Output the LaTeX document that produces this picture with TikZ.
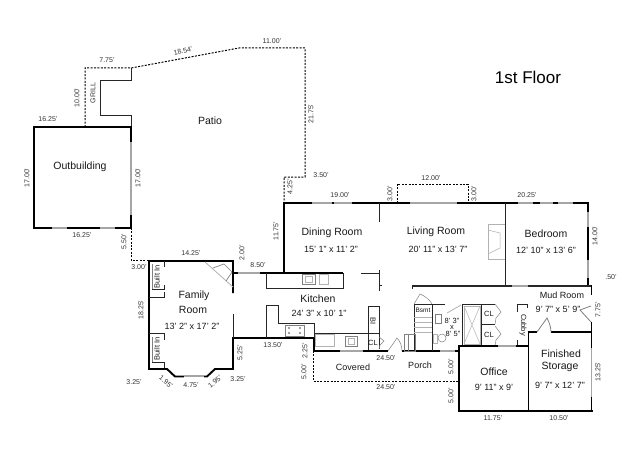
\documentclass[tikz,border=0pt]{standalone}
\usepackage{fontspec}
\setmainfont{Liberation Sans}
\tikzset{
  wall/.style={line width=1.9pt,black,line cap=butt},
  win/.style={line width=1.3pt,black!35},
  thin/.style={line width=0.9pt,black!85},
  fix/.style={line width=0.5pt,black!50},
  pale/.style={line width=0.5pt,black!30},
  dsh/.style={line width=1pt,black,dash pattern=on 2pt off 1.4pt},
  dim/.style={font=\fontsize{7}{8}\selectfont,text=black!80,inner sep=0pt},
  room/.style={font=\fontsize{10.5}{12}\selectfont,text=black!90,inner sep=0pt},
  size/.style={font=\fontsize{9}{10}\selectfont,text=black!90,inner sep=0pt},
  sm/.style={font=\fontsize{7.5}{8}\selectfont,text=black!90,inner sep=0pt},
}
\begin{document}
\begin{tikzpicture}[x=1pt,y=-1pt]
\useasboundingbox (0,0) rectangle (640,460);
\fill[white] (0,0) rectangle (640,460);
% patio dashed outline
\draw[dsh] (85,127) -- (85,68) -- (131,68) -- (239,48) -- (305,48) -- (305,177) -- (284,177) -- (284,202);
\draw[dsh] (131,228) -- (131,260) -- (149,260);
\draw[dsh] (397,203) -- (397,184) -- (468,184) -- (468,203);
\draw[dsh] (313,351) -- (313,381) -- (459,381);
% grill
\draw[thin] (131,68) -- (131,80) -- (100,80) -- (100,115) -- (131,115) -- (131,127);
% outbuilding
\draw[wall] (34,228) -- (34,127) -- (131,127) -- (131,228) -- cycle;
\draw[white,line width=2pt] (131,142) -- (131,215);
\draw[win] (131,142) -- (131,215);
\draw[white,line width=2pt] (52,228) -- (67,228) (100,228) -- (115,228);
\draw[win] (52,228) -- (67,228) (100,228) -- (115,228);
% family room
\draw[wall] (233,293) -- (233,261) -- (149,261) -- (149,369) -- (167,369) -- (175,376.5) -- (207,376.5) -- (215,369) -- (233,369) -- (233,338) -- (314,338) -- (314,351);
\draw[thin] (233,314) -- (233,338);
\draw[white,line width=2pt] (184,376.5) -- (204,376.5);
\draw[win] (184,376.5) -- (204,376.5);
\draw[thin] (164,261) -- (164,267);
\draw[fix] (152,264) -- (152,289);
\draw[thin] (152,289) -- (164,289) -- (164,285);
\draw[thin] (149,297) -- (164,297) -- (164,292);
\draw[thin] (149,333) -- (164,333) -- (164,340);
\draw[fix] (152,337) -- (152,362);
\draw[thin] (152,362) -- (164,362) -- (164,368);
\draw[pale,line width=0.8pt] (205,262) -- (233,287);
\draw[fix,line width=0.7pt] (213,268) -- (224,264) -- (232,272) -- (226,281);
% connection family-kitchen
\draw[white,line width=2pt] (233,273) -- (265,273);
\draw[win] (233,273) -- (265,273);
\draw[wall] (233,273) -- (238,273) (260,273) -- (343,273);
\draw[wall] (284,273) -- (284,202.05);
% top wall
\draw[wall] (283.1,203) -- (589,203);
\draw[white,line width=2pt] (312,203) -- (332,203) (334,203) -- (352,203) (410,203) -- (457,203) (518,203) -- (533,203) (540,203) -- (553,203) (558,203) -- (573,203);
\draw[win] (312,203) -- (332,203) (334,203) -- (352,203);
\draw[win] (410,203) -- (457,203);
\draw[win] (518,203) -- (533,203) (540,203) -- (553,203) (558,203) -- (573,203);
% right of bedroom
\draw[wall] (588,203) -- (588,286);
\draw[white,line width=2pt] (588,212) -- (588,227) (588,260) -- (588,278);
\draw[win] (588,212) -- (588,227) (588,260) -- (588,278);
\draw[thin] (505,203) -- (505,286);
\draw[thin,line width=1.1pt] (412,286) -- (591,286);
\draw[thin] (412,286) -- (412,289);
\draw[white,line width=2pt] (512,286) -- (528,286);
\draw[win] (512,286) -- (528,286);
% fireplace living room
\draw[pale] (505,224) -- (488,224) -- (488,259) -- (505,259);
\draw[pale] (488,230) -- (500,233) -- (500,248) -- (488,254);
% living/dining partition
\draw[thin] (379,203) -- (379,222);
\draw[thin] (361,273) -- (379,273);
\draw[thin] (379,270) -- (379,291) (379,285) -- (382,285);
% kitchen counter
\draw[thin] (266,273) -- (266,288) -- (343,288) -- (343,273);
\draw[fix] (302,274) rectangle (315,284);
\draw[pale] (305,276) rectangle (312,282);
\draw[pale] (319,274) rectangle (328,284);
% kitchen lower
\draw[thin] (266,338) -- (266,305) -- (278,305) -- (278,323) -- (314,323) -- (314,338);
\draw[fix] (285,325) rectangle (304,336);
\fill[black!50] (289,328) circle (1.2) (289,333) circle (1.2) (300,328) circle (1.2) (300,333) circle (1.2);
\draw[thin] (314,333) -- (379,333);
\draw[thin] (368,351) -- (368,306) -- (379,306) -- (379,349);
\draw[pale] (315,334) rectangle (334,346);
\draw[fix] (345,336) rectangle (357,346);
\draw[pale] (348,338) rectangle (354,344);
\draw[fix] (379,337) -- (384,341) -- (380,345) -- (379,349);
% porch wall
\draw[wall] (314,351) -- (388,351) (402,351) -- (459,351);
\draw[white,line width=2pt] (340,351) -- (363,351) (440,351) -- (455,351);
\draw[win] (340,351) -- (363,351) (440,351) -- (455,351);
\draw[fix] (388,351) -- (397,338) .. controls (400,341) and (402,346) .. (402,351);
% stairs and bath
\draw[thin] (414,351) -- (414,304) -- (432,304) -- (432,351);
\draw[pale] (414,317) -- (432,317) (414,322) -- (432,322) (414,327) -- (432,327) (414,332) -- (432,332);
\draw[fix] (414,304) -- (420,294) .. controls (425,296) and (430,300) .. (432,304);
\draw[fix] (404,334) rectangle (415,351) (408,334) -- (408,351);
\draw[thin] (432,304) -- (445,304) (462,304) -- (481,304);
\draw[fix] (435,314) rectangle (441,323);
\draw[pale] (433,334) rectangle (437,343);
\draw[fix] (442,338) circle (4);
\draw[pale,line width=0.8pt] (447,313) -- (461,305);
% shower and closets
\draw[thin] (462,304) -- (462,346);
\draw[thin] (481,304) -- (481,346);
\draw[pale] (464,306) rectangle (480,344);
\draw[pale] (464,306) -- (480,344) (480,306) -- (464,344);
\draw[thin] (481,304) -- (495,304) (481,324) -- (495,324);
\draw[fix] (495,304) -- (501,312) -- (496,318) -- (495,324) (495,326) -- (501,334) -- (496,340) -- (495,346);
% cubby
\draw[thin] (517,312) -- (517,304) -- (527,304) -- (527,308);
\draw[thin] (517,340) -- (517,346);
% office and storage
\draw[wall] (459,346) -- (528.5,346);
\draw[white,line width=2pt] (498,346) -- (516,346);
\draw[win] (498,346) -- (516,346);
\draw[wall] (459,345) -- (459,411);
\draw[wall] (458,411) -- (592.5,411);
\draw[wall] (528.5,331) -- (528.5,411);
\draw[wall] (527.5,332) -- (537,332) (551,332) -- (592,332);
\draw[fix,line width=0.8pt] (537,332) -- (547,318) .. controls (549,322) and (551,327) .. (551,332);
\draw[wall] (591.5,285) -- (591.5,295);
\draw[wall] (591.5,322) -- (591.5,411);
\draw[white,line width=2pt] (591.5,348) -- (591.5,397);
\draw[win] (591.5,348) -- (591.5,397);
\draw[fix,line width=0.8pt] (591,322) -- (580,310) -- (591,306);
% labels
\node[font=\fontsize{17}{20}\selectfont,inner sep=0pt] (title) at (528,77) {1st Floor};
\node[room] (patio) at (210,121) {Patio};
\node[room] (outb) at (80,167) {Outbuilding};
\node[room] (din) at (332,233) {Dining Room};
\node[size] (dins) at (331,249) {15' 1" x 11' 2"};
\node[room] (liv) at (436,232) {Living Room};
\node[size] (livs) at (438,249) {20' 11" x 13' 7"};
\node[room] (bed) at (546,234) {Bedroom};
\node[size] (beds) at (546,250) {12' 10" x 13' 6"};
\node[room] (fam1) at (194,296) {Family};
\node[room] (fam2) at (193,310) {Room};
\node[size] (fams) at (192,326) {13' 2" x 17' 2"};
\node[room] (kit) at (318,299) {Kitchen};
\node[size] (kits) at (319,313) {24' 3" x 10' 1"};
\node[size] (mud) at (562,295) {Mud Room};
\node[size] (muds) at (558,309) {9' 7" x 5' 9"};
\node[room] (fin1) at (561,354) {Finished};
\node[room] (fin2) at (560,367) {Storage};
\node[size] (fins) at (560,385) {9' 7" x 12' 7"};
\node[room] (off) at (494,372) {Office};
\node[size] (offs) at (494,387) {9' 11" x 9'};
\node[size] (cov) at (353,367) {Covered};
\node[size] (por) at (420,365) {Porch};
\node[sm] (b1) at (452,321) {8' 3"};
\node[sm] (b2) at (452,327.5) {x};
\node[sm] (b3) at (453,334) {8' 5"};
\node[sm] (cl1) at (489,314) {CL};
\node[sm] (cl2) at (489,335) {CL};
\node[sm] (cl3) at (373,343) {CL};
\node[sm,rotate=-90] (cub) at (523,325) {Cubby};
\node[sm,rotate=-90] (bi) at (373,321) {BI};
\node[sm,rotate=90] (bi1) at (157,277) {Built In};
\node[sm,rotate=90] (bi2) at (157,349) {Built In};
\node[sm,font=\fontsize{6.5}{7}\selectfont] (bs) at (423,310) {Bsmt};
\node[dim,rotate=90] (gr) at (93,93) {GRILL};
\node[dim] (d1) at (107,60) {7.75'};
\node[dim,rotate=14] (d2) at (183,51) {18.54'};
\node[dim] (d3) at (272,41) {11.00'};
\node[dim,rotate=90] (d4) at (77,98) {10.00'};
\node[dim] (d5) at (48,119) {16.25'};
\node[dim,rotate=90] (d6) at (311,114) {21.75'};
\node[dim,rotate=90] (d7) at (27,178) {17.00'};
\node[dim,rotate=90] (d8) at (138,178) {17.00'};
\node[dim] (d9) at (82,235) {16.25'};
\node[dim,rotate=90] (d10) at (290,187) {4.25'};
\node[dim] (d11) at (321,175) {3.50'};
\node[dim] (d12) at (340,195) {19.00'};
\node[dim,rotate=90] (d13) at (390,194) {3.00'};
\node[dim] (d14) at (431,178) {12.00'};
\node[dim,rotate=90] (d15) at (474,194) {3.00'};
\node[dim] (d16) at (527,195) {20.25'};
\node[dim,rotate=90] (d17) at (595,236) {14.00'};
\node[dim] (d18) at (611,277) {.50'};
\node[dim,rotate=90] (d19) at (598,310) {7.75'};
\node[dim,rotate=90] (d20) at (598,372) {13.25'};
\node[dim,rotate=90] (d21) at (276,231) {11.75'};
\node[dim,rotate=90] (d22) at (124,242) {5.50'};
\node[dim,rotate=90] (d23) at (242,253) {2.00'};
\node[dim] (d24) at (191,253) {14.25'};
\node[dim] (d25) at (258,265) {8.50'};
\node[dim] (d26) at (139,267) {3.00'};
\node[dim,rotate=90] (d27) at (141,310) {18.25'};
\node[dim,rotate=90] (d28) at (240,353) {5.25'};
\node[dim] (d29) at (273,345) {13.50'};
\node[dim] (d30) at (134,382) {3.25'};
\node[dim,rotate=-40] (d31) at (166,382) {1.95'};
\node[dim] (d32) at (191,385) {4.75'};
\node[dim,rotate=40] (d33) at (215,382) {1.95'};
\node[dim] (d34) at (238,379) {3.25'};
\node[dim,rotate=90] (d35) at (305,351) {2.25'};
\node[dim,rotate=90] (d36) at (304,372) {5.00'};
\node[dim] (d37) at (386,358) {24.50'};
\node[dim,rotate=90] (d38) at (451,367) {5.00'};
\node[dim] (d39) at (386,387) {24.50'};
\node[dim,rotate=90] (d40) at (451,396) {5.00'};
\node[dim] (d41) at (493,418) {11.75'};
\node[dim] (d42) at (559,418) {10.50'};
\end{tikzpicture}
\end{document}
